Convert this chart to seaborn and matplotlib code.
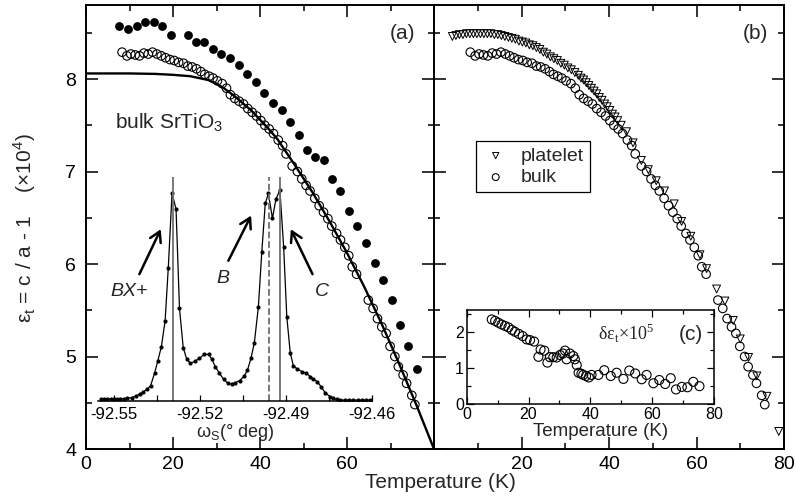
import matplotlib
matplotlib.use('Agg')
import matplotlib.pyplot as plt
import seaborn as sns
from matplotlib.ticker import MultipleLocator

# panel (a): filled dots
temp_filled = [7.7, 9.7, 11.7, 13.6, 15.6, 17.5, 19.5, 23.4, 25.3, 27.2, 29.2, 31.1, 33.1,
               35.1, 37.0, 39.0, 41.0, 43.0, 45.0, 46.9, 48.9, 50.8, 52.7, 54.6, 56.6, 58.5,
               60.5, 62.4, 64.4, 66.4, 68.3, 70.3, 72.2, 74.1, 76.0]
eps_filled = [8.57, 8.54, 8.57, 8.62, 8.62, 8.57, 8.48, 8.48, 8.40, 8.40, 8.32, 8.27, 8.23,
              8.15, 8.05, 7.97, 7.85, 7.74, 7.67, 7.53, 7.39, 7.23, 7.16, 7.12, 6.92, 6.79,
              6.57, 6.41, 6.23, 6.01, 5.83, 5.61, 5.34, 5.11, 4.86]

# bulk (open circles, panels a and b)
temp_bulk = [8.3, 9.4, 10.3, 11.3, 12.3, 13.3, 14.3, 15.3, 16.3, 17.3, 18.3, 19.3, 20.3, 21.3,
             22.4, 23.4, 24.4, 25.4, 26.4, 27.3, 28.3, 29.2, 30.2, 31.3, 32.3, 33.2, 34.2,
             35.2, 36.2, 37.2, 38.2, 39.2, 40.2, 41.1, 42.1, 43.1, 44.2, 45.2, 46.0, 47.4,
             48.6, 49.6, 50.6, 51.5, 52.6, 53.6, 54.6, 55.6, 56.5, 57.6, 58.5, 59.5, 60.4,
             61.2, 62.2, 64.9, 66.0, 67.0, 68.0, 69.0, 69.9, 71.0, 71.8, 72.9, 73.7, 74.9, 75.6]
eps_bulk = [8.29, 8.25, 8.27, 8.26, 8.25, 8.28, 8.27, 8.29, 8.27, 8.25, 8.23, 8.21, 8.20, 8.18,
            8.17, 8.14, 8.13, 8.11, 8.08, 8.05, 8.03, 8.01, 7.98, 7.95, 7.90, 7.83, 7.79,
            7.76, 7.73, 7.68, 7.64, 7.60, 7.55, 7.50, 7.46, 7.41, 7.34, 7.28, 7.19, 7.06,
            7.00, 6.92, 6.85, 6.79, 6.71, 6.63, 6.56, 6.49, 6.41, 6.33, 6.26, 6.18, 6.09,
            5.97, 5.89, 5.61, 5.52, 5.41, 5.32, 5.25, 5.11, 5.00, 4.89, 4.80, 4.71, 4.58, 4.48]

# fit curve
temp_fit = [0, 10, 16, 20, 24, 26, 28, 30, 32, 34, 36, 38, 40, 42, 44, 48, 52, 56, 60, 64,
            68, 72, 76, 80]
eps_fit = [8.06, 8.06, 8.055, 8.045, 8.03, 8.01, 7.99, 7.95, 7.89, 7.82, 7.74, 7.66, 7.56,
           7.46, 7.35, 7.07, 6.78, 6.46, 6.12, 5.75, 5.35, 4.92, 4.47, 4.0]

# panel (b): platelet
temp_plate = [4.2, 5.0, 5.8, 6.6, 7.4, 8.2, 9.0, 9.8, 10.6, 11.4, 12.2, 13.0, 13.8, 14.6,
              15.4, 16.2, 17.0, 17.8, 18.6, 19.4, 20.2, 21.0, 21.8, 22.6, 23.4, 24.2, 25.0,
              25.8, 26.6, 27.4, 28.2, 29.0, 29.8, 30.6, 31.4, 32.2, 33.0, 33.6, 34.2, 34.8,
              35.4, 36.0, 36.6, 37.2, 37.8, 38.4, 39.0, 39.6, 40.2, 40.8, 41.4, 42.0, 42.8,
              44.0, 45.5, 47.4, 49.0, 50.8, 52.7, 54.9, 56.6, 58.7, 60.8, 62.3, 64.6, 66.5,
              68.4, 70.0, 71.9, 73.8, 76.1, 78.8]
eps_plate = [8.46, 8.47, 8.48, 8.48, 8.49, 8.49, 8.49, 8.49, 8.49, 8.49, 8.49, 8.49, 8.48, 8.48,
             8.47, 8.46, 8.45, 8.44, 8.43, 8.41, 8.40, 8.39, 8.37, 8.36, 8.34, 8.32, 8.29,
             8.27, 8.24, 8.22, 8.20, 8.17, 8.15, 8.12, 8.10, 8.07, 8.04, 8.01, 7.99, 7.96,
             7.93, 7.90, 7.87, 7.84, 7.80, 7.77, 7.73, 7.70, 7.66, 7.62, 7.59, 7.55, 7.50,
             7.43, 7.31, 7.12, 7.02, 6.90, 6.79, 6.65, 6.46, 6.30, 6.10, 5.95, 5.73, 5.60,
             5.39, 5.19, 4.99, 4.79, 4.57, 4.19]

# inset (c): difference
temp_delta = [8.1, 9.2, 10.2, 11.3, 12.4, 13.5, 14.6, 15.6, 16.9, 18.1, 19.4, 20.5, 21.8,
              23.2, 23.9, 25.1, 26.1, 26.9, 28.0, 29.1, 30.2, 31.1, 31.8, 32.3, 33.4, 34.5,
              35.0, 35.6, 36.2, 37.1, 37.7, 38.6, 39.5, 40.4, 42.6, 44.5, 46.6, 48.5, 50.7,
              52.6, 54.5, 56.6, 58.2, 60.4, 62.3, 64.2, 66.0, 67.7, 69.6, 71.4, 73.3, 75.3]
delta_eps = [2.34, 2.30, 2.25, 2.20, 2.16, 2.12, 2.05, 2.00, 1.94, 1.88, 1.79, 1.77, 1.73,
             1.31, 1.51, 1.48, 1.15, 1.30, 1.30, 1.29, 1.36, 1.40, 1.48, 1.24, 1.40, 1.33,
             1.24, 1.08, 0.87, 0.84, 0.81, 0.78, 0.74, 0.81, 0.81, 0.94, 0.78, 0.87, 0.70,
             0.93, 0.85, 0.69, 0.81, 0.58, 0.67, 0.56, 0.72, 0.41, 0.48, 0.47, 0.62, 0.50]

# inset in (a): rocking curve (relative intensity)
omega = [-92.5546, -92.5535, -92.5523, -92.5511, -92.5500, -92.5488, -92.5477, -92.5465,
         -92.5453, -92.5438, -92.5424, -92.5410, -92.5398, -92.5384, -92.5372, -92.5358,
         -92.5347, -92.5334, -92.5321, -92.5310, -92.5297, -92.5283, -92.5271, -92.5258,
         -92.5246, -92.5233, -92.5218, -92.5202, -92.5185, -92.5169, -92.5158, -92.5146,
         -92.5132, -92.5117, -92.5102, -92.5088, -92.5076, -92.5061, -92.5045, -92.5034,
         -92.5022, -92.5010, -92.4996, -92.4984, -92.4972, -92.4961, -92.4947, -92.4935,
         -92.4921, -92.4908, -92.4897, -92.4885, -92.4874, -92.4860, -92.4844, -92.4829,
         -92.4815, -92.4804, -92.4790, -92.4778, -92.4763, -92.4746, -92.4735, -92.4723,
         -92.4710, -92.4694, -92.4680, -92.4665, -92.4650, -92.4636, -92.4621, -92.4607]
intensity = [0.010, 0.010, 0.010, 0.010, 0.010, 0.010, 0.011, 0.011, 0.012, 0.015, 0.022,
             0.031, 0.040, 0.053, 0.067, 0.124, 0.177, 0.243, 0.359, 0.595, 0.927, 0.857,
             0.414, 0.238, 0.188, 0.168, 0.177, 0.190, 0.208, 0.208, 0.186, 0.153, 0.124,
             0.097, 0.079, 0.076, 0.082, 0.091, 0.112, 0.138, 0.190, 0.260, 0.421, 0.667,
             0.882, 0.927, 0.815, 0.900, 0.942, 0.689, 0.376, 0.216, 0.156, 0.143, 0.131,
             0.124, 0.109, 0.097, 0.086, 0.064, 0.037, 0.019, 0.012, 0.007, 0.005, 0.004,
             0.004, 0.004, 0.004, 0.004, 0.004, 0.004]
omega_lines = [-92.5293, -92.4958, -92.4922]
omega_ticks = [-92.55, -92.52, -92.49, -92.46]

W, H = 796, 503


def px(x, y):
    # image pixel -> figure fraction
    return x / W, 1 - y / H


def box(x0, y0, x1, y1):
    return [x0 / W, 1 - y1 / H, (x1 - x0) / W, (y1 - y0) / H]


def frame(ax, lw=1.3, major=8.5, minor=4.3):
    ax.tick_params(which='both', direction='in', top=True, right=True,
                   width=lw * 0.8, colors='black')
    ax.tick_params(which='major', length=major)
    ax.tick_params(which='minor', length=minor)
    for s in ax.spines.values():
        s.set_linewidth(lw)
        s.set_color('black')


sns.set_theme(style='ticks')
plt.rcParams['font.family'] = ['Liberation Sans', 'DejaVu Sans']
plt.rcParams['axes.unicode_minus'] = False

fig = plt.figure(figsize=(W / 100, H / 100), dpi=100)
ax_a = fig.add_axes(box(86, 5, 434, 449))
ax_b = fig.add_axes(box(434, 5, 784, 449))

open_kw = dict(marker='o', s=38, facecolors='none', edgecolor='black', linewidth=0.8)

# panel (a)
sns.scatterplot(x=temp_filled, y=eps_filled, ax=ax_a, color='black', s=40, linewidth=0)
sns.scatterplot(x=temp_bulk, y=eps_bulk, ax=ax_a, **open_kw)
sns.lineplot(x=temp_fit, y=eps_fit, ax=ax_a, color='black', lw=1.7, sort=False, estimator=None)

# panel (b)
sns.scatterplot(x=temp_plate, y=eps_plate, ax=ax_b, marker='v', s=32, facecolors='none',
                edgecolor='black', linewidth=0.7, label='platelet')
sns.scatterplot(x=temp_bulk, y=eps_bulk, ax=ax_b, label='bulk', **open_kw)

for ax, labs in [(ax_a, ['0', '20', '40', '60', '']), (ax_b, ['', '20', '40', '60', '80'])]:
    ax.set_xlim(0, 80)
    ax.set_ylim(4, 8.8)
    ax.set_xticks([0, 20, 40, 60, 80], labs)
    ax.xaxis.set_minor_locator(MultipleLocator(10))
    ax.yaxis.set_major_locator(MultipleLocator(1))
    ax.yaxis.set_minor_locator(MultipleLocator(0.5))
    frame(ax, lw=1.4, major=8.5, minor=4.3)
    ax.tick_params(axis='both', labelsize=14)
    ax.tick_params(axis='x', pad=5)
    ax.tick_params(axis='y', pad=7)
    ax.set_xlabel('')
    ax.set_ylabel('')
ax_b.tick_params(axis='y', labelleft=False)

leg = ax_b.legend(loc='upper left', bbox_to_anchor=(0.093, 0.715), fontsize=14,
                  frameon=True, fancybox=False, edgecolor='black', framealpha=1,
                  handletextpad=0.6, borderpad=0.3, labelspacing=0.2, handlelength=1.4,
                  markerscale=0.8)
leg.get_frame().set_linewidth(0.9)

fig.text(*px(440, 483), 'Temperature (K)', fontsize=15, ha='center', va='center')
fig.text(*px(25, 228), 'ε$_{\\mathdefault{t}}$ = c / a - 1    (×10$^{\\mathdefault{4}}$)',
         fontsize=15, rotation=90, ha='center', va='center')
fig.text(*px(415, 33), '(a)', fontsize=15, ha='right', va='center')
fig.text(*px(768, 33), '(b)', fontsize=15, ha='right', va='center')
fig.text(*px(115, 128), 'bulk SrTiO$_{\\mathdefault{3}}$', fontsize=15, ha='left', va='baseline')

# inset in (a)
ax_in = fig.add_axes(box(98, 177, 372, 401))
ax_in.patch.set_alpha(0)
for s in ['left', 'right', 'top']:
    ax_in.spines[s].set_visible(False)
ax_in.spines['bottom'].set_linewidth(1.1)
ax_in.spines['bottom'].set_color('black')
sns.lineplot(x=omega, y=intensity, ax=ax_in, color='black', lw=0.9, marker='o',
             markersize=3, markeredgewidth=0, sort=False, estimator=None)
for w, ls in zip(omega_lines, ['-', '--', '-']):
    ax_in.axvline(w, color='#6e6e6e', lw=1.3, ls=ls)
ax_in.set_xlim(-92.5555, -92.46)
ax_in.set_ylim(0, 1)
ax_in.set_yticks([])
ax_in.set_xticks(omega_ticks, [f'{t:.2f}' for t in omega_ticks])
ax_in.set_xticks([-92.535, -92.505, -92.475], minor=True)
ax_in.tick_params(axis='x', which='both', direction='in', length=4.5, width=0.9,
                  labelsize=12, pad=4, colors='black')
ax_in.set_xlabel('ω$_{\\mathdefault{S}}$(° deg)', fontsize=13, labelpad=0)
ax_in.set_ylabel('')

arrow_kw = dict(arrowstyle='->,head_length=0.6,head_width=0.35', color='black', lw=1.8)
for tail, head, lab, lpos in [((-92.5415, 0.555), (-92.5332, 0.778), 'BX+', (-92.5445, 0.49)),
                              ((-92.5105, 0.615), (-92.5017, 0.839), 'B', (-92.5118, 0.545)),
                              ((-92.4803, 0.555), (-92.4887, 0.778), 'C', (-92.4775, 0.49))]:
    ax_in.annotate('', xy=head, xytext=tail, arrowprops=arrow_kw)
    ax_in.text(lpos[0], lpos[1], lab, fontsize=14, style='italic', ha='center', va='center')

# inset (c)
ax_c = fig.add_axes(box(466.7, 310, 714, 404.3))
ax_c.set_facecolor('white')
sns.scatterplot(x=temp_delta, y=delta_eps, ax=ax_c, marker='o', s=42, facecolors='none',
                edgecolor='black', linewidth=0.8)
ax_c.set_xlim(0, 80)
ax_c.set_ylim(0, 2.6)
ax_c.xaxis.set_major_locator(MultipleLocator(20))
ax_c.xaxis.set_minor_locator(MultipleLocator(10))
ax_c.yaxis.set_major_locator(MultipleLocator(1))
ax_c.yaxis.set_minor_locator(MultipleLocator(0.5))
frame(ax_c, lw=1.1, major=5, minor=3)
ax_c.tick_params(axis='both', labelsize=11.5, pad=2)
ax_c.set_xlabel('Temperature (K)', fontsize=13.5, labelpad=0)
ax_c.xaxis.set_label_coords(0.54, -0.2)
ax_c.set_ylabel('')
fig.text(*px(626, 333), 'δε$_{\\mathdefault{t}}$×10$^{\\mathdefault{5}}$', fontsize=13,
         family=['Liberation Serif', 'DejaVu Serif'], ha='center', va='center')
fig.text(*px(703, 334), '(c)', fontsize=15, ha='right', va='center')

fig.savefig('out.png', dpi=100)
